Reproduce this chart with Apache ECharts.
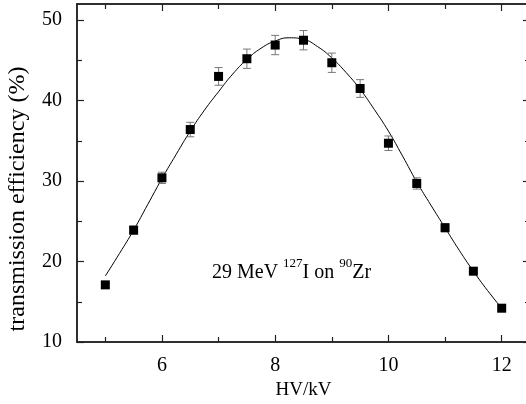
<!DOCTYPE html>
<html>
<head>
<meta charset="utf-8">
<script src="https://cdn.jsdelivr.net/npm/echarts@6/dist/echarts.min.js"></script>
<style>
  html, body { margin: 0; padding: 0; background: #fff; }
  #main { width: 526px; height: 404px; }
</style>
</head>
<body>
<div id="main"></div>
<script>
// measured points (HV in kV, efficiency in %)
var hvValues = [5, 5.5, 6, 6.5, 7, 7.5, 8, 8.5, 9, 9.5, 10, 10.5, 11, 11.5, 12];
var effValues = [17.1, 23.9, 30.4, 36.4, 43.0, 45.2, 46.9, 47.5, 44.7, 41.5, 34.7, 29.7, 24.2, 18.8, 14.2];
var effErrors = [0.3, 0.5, 0.7, 0.9, 1.1, 1.2, 1.2, 1.2, 1.2, 1.1, 0.9, 0.7, 0.5, 0.3, 0.2];

// fit curve
var fitX = [5, 5.25, 5.5, 5.75, 6, 6.25, 6.5, 6.75, 7, 7.25, 7.5, 7.75, 8, 8.25, 8.5,
            8.75, 9, 9.25, 9.5, 9.75, 10, 10.25, 10.5, 10.75, 11, 11.25, 11.5, 11.75, 12];
var fitY = [18.2, 21.0, 23.9, 27.1, 30.3, 33.3, 36.2, 38.8, 41.1, 43.3, 45.1, 46.5, 47.4, 47.8, 47.6,
            46.7, 45.3, 43.5, 41.4, 38.9, 36.2, 33.1, 29.9, 27.0, 24.2, 21.4, 18.8, 16.4, 14.2];

var xMajor = [6, 8, 10, 12];
var xMinor = [5, 7, 9, 11];
var yMajor = [10, 20, 30, 40, 50];
var yMinor = [15, 25, 35, 45];

var FONT = 'Liberation Serif';
var AXIS_COLOR = '#222';

function xAx(pos, ticks, len, withLabels) {
    return {
        type: 'value', gridIndex: 0, position: pos,
        min: 4.5, max: 12.5,
        axisLine: { show: true, lineStyle: { color: AXIS_COLOR, width: 1.5 } },
        axisTick: { show: true, inside: true, length: len, customValues: ticks,
                    lineStyle: { color: AXIS_COLOR, width: 1.2 } },
        axisLabel: { show: withLabels, customValues: ticks, margin: 14,
                     fontFamily: FONT, fontSize: 20, color: '#000' },
        splitLine: { show: false }
    };
}
function yAx(pos, ticks, len, withLabels) {
    return {
        type: 'value', gridIndex: 0, position: pos,
        min: 10, max: 52,
        axisLine: { show: true, lineStyle: { color: AXIS_COLOR, width: 1.5 } },
        axisTick: { show: true, inside: true, length: len, customValues: ticks,
                    lineStyle: { color: AXIS_COLOR, width: 1.2 } },
        axisLabel: { show: withLabels, customValues: ticks, margin: 15,
                     fontFamily: FONT, fontSize: 20, color: '#000' },
        splitLine: { show: false }
    };
}

var xBottom = xAx('bottom', xMajor, 7, true);
xBottom.name = 'HV/kV';
xBottom.nameLocation = 'middle';
xBottom.nameGap = 35;
xBottom.nameTextStyle = { fontFamily: FONT, fontSize: 19, color: '#000' };

var points = [];
for (var i = 0; i < hvValues.length; i++) {
    points.push([hvValues[i], effValues[i], effErrors[i]]);
}
var curve = [];
for (var j = 0; j < fitX.length; j++) {
    curve.push([fitX[j], fitY[j]]);
}

var option = {
    animation: false,
    backgroundColor: '#fff',
    grid: { left: 77, right: -4, top: 4, bottom: 62, outerBoundsMode: 'none', containLabel: false },
    xAxis: [
        xBottom,
        xAx('bottom', xMinor, 5, false),
        xAx('top', xMajor, 7, false),
        xAx('top', xMinor, 5, false)
    ],
    yAxis: [
        yAx('left', yMajor, 7, true),
        yAx('left', yMinor, 5, false),
        yAx('right', yMajor, 7, false),
        yAx('right', yMinor, 5, false)
    ],
    graphic: [
        {
            type: 'text', x: 18, y: 199, rotation: Math.PI / 2,
            style: { text: 'transmission efficiency (%)', fontFamily: FONT, fontSize: 24,
                     fill: '#000', align: 'center', verticalAlign: 'middle' }
        },
        {
            type: 'text', x: 212, y: 270,
            style: {
                text: '{n|29 MeV }{s|127}{n|I on }{s|90}{n|Zr}',
                fontFamily: FONT, fill: '#000', verticalAlign: 'middle',
                rich: {
                    n: { fontFamily: FONT, fontSize: 20, lineHeight: 26, verticalAlign: 'bottom', fill: '#000' },
                    s: { fontFamily: FONT, fontSize: 13, lineHeight: 14, verticalAlign: 'top', fill: '#000' }
                }
            }
        }
    ],
    series: [
        {
            name: 'fit', type: 'line', xAxisIndex: 0, yAxisIndex: 0,
            data: curve, smooth: true, showSymbol: false, symbol: 'none',
            lineStyle: { color: '#000', width: 1 }, z: 1
        },
        {
            name: 'error', type: 'custom', xAxisIndex: 0, yAxisIndex: 0,
            data: points, z: 2,
            renderItem: function (params, api) {
                var x = api.value(0), y = api.value(1), e = api.value(2);
                var hi = api.coord([x, y + e]);
                var lo = api.coord([x, y - e]);
                var w = 4;
                var st = { stroke: '#777', lineWidth: 1 };
                return {
                    type: 'group',
                    children: [
                        { type: 'line', shape: { x1: hi[0], y1: hi[1], x2: lo[0], y2: lo[1] }, style: st },
                        { type: 'line', shape: { x1: hi[0] - w, y1: hi[1], x2: hi[0] + w, y2: hi[1] }, style: st },
                        { type: 'line', shape: { x1: lo[0] - w, y1: lo[1], x2: lo[0] + w, y2: lo[1] }, style: st }
                    ]
                };
            }
        },
        {
            name: 'data', type: 'scatter', xAxisIndex: 0, yAxisIndex: 0,
            data: points, symbol: 'rect', symbolSize: 9, z: 3,
            itemStyle: { color: '#000', opacity: 1 }
        }
    ]
};

var chart = echarts.init(document.getElementById('main'), null, { renderer: 'canvas' });
chart.setOption(option);
</script>
</body>
</html>
